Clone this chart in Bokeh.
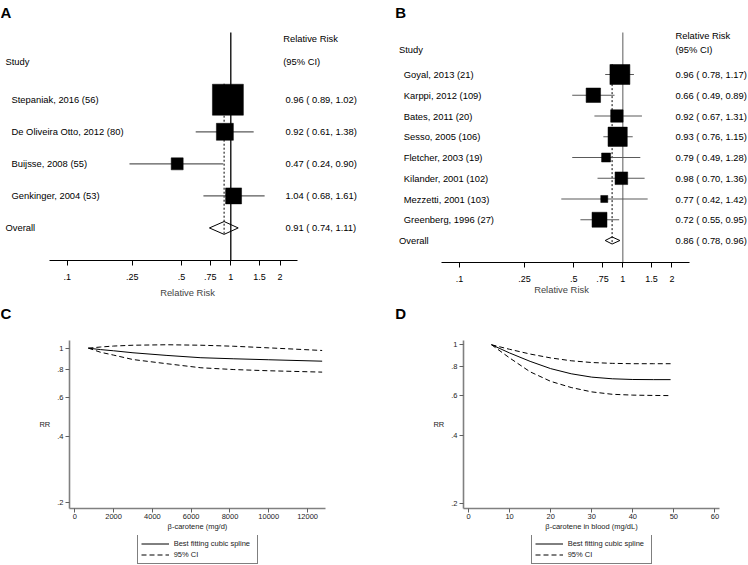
import math
from bokeh.plotting import figure
from bokeh.layouts import column, row
from bokeh.models import (Range1d, LinearScale, FixedTicker, CustomJSTickFormatter,
                          Label, Legend, LegendItem)
from bokeh.core.properties import value
from bokeh.embed import file_html
from bokeh.resources import INLINE

FONT = "Liberation Sans"

# ---------------- data ----------------
a_studies = ["Stepaniak, 2016 (56)", "De Oliveira Otto, 2012 (80)",
             "Buijsse, 2008 (55)", "Genkinger, 2004 (53)"]
a_rr = [0.96, 0.92, 0.47, 1.04]
a_lo = [0.89, 0.61, 0.24, 0.68]
a_hi = [1.02, 1.38, 0.90, 1.61]
a_weight = [58.2, 17.5, 8.7, 15.5]
a_overall = [0.91, 0.74, 1.11]

b_studies = ["Goyal, 2013 (21)", "Karppi, 2012 (109)", "Bates, 2011 (20)",
             "Sesso, 2005 (106)", "Fletcher, 2003 (19)", "Kilander, 2001 (102)",
             "Mezzetti, 2001 (103)", "Greenberg, 1996 (27)"]
b_rr = [0.96, 0.66, 0.92, 0.93, 0.79, 0.98, 0.77, 0.72]
b_lo = [0.78, 0.49, 0.67, 0.76, 0.49, 0.70, 0.42, 0.55]
b_hi = [1.17, 0.89, 1.31, 1.15, 1.28, 1.36, 1.42, 0.95]
b_weight = [24.2, 12.7, 9.4, 22.5, 4.9, 9.7, 3.0, 13.6]
b_overall = [0.86, 0.78, 0.96]

forest_ticks = [0.1, 0.25, 0.5, 0.75, 1, 1.5, 2]

c_x = [700, 1330, 2000, 3000, 4750, 6500, 8200, 10000, 12750]
c_rr = [1.0, 0.985, 0.973, 0.953, 0.927, 0.905, 0.895, 0.886, 0.873]
c_hi = [1.0, 1.012, 1.022, 1.031, 1.036, 1.031, 1.020, 1.003, 0.976]
c_lo = [1.0, 0.958, 0.930, 0.888, 0.850, 0.815, 0.800, 0.790, 0.779]
c_xticks = [0, 2000, 4000, 6000, 8000, 10000, 12000]

d_x = [5.6, 10, 15, 20, 25, 30, 35, 40, 45, 49.2]
d_rr = [1.0, 0.92, 0.845, 0.785, 0.745, 0.72, 0.708, 0.703, 0.702, 0.702]
d_hi = [1.0, 0.955, 0.91, 0.875, 0.85, 0.835, 0.828, 0.825, 0.825, 0.825]
d_lo = [1.0, 0.875, 0.76, 0.69, 0.648, 0.62, 0.605, 0.60, 0.598, 0.597]
d_xticks = [0, 10, 20, 30, 40, 50, 60]

rr_ticks = [0.2, 0.4, 0.6, 0.8, 1]
legend_labels = ["Best fitting cubic spline", "95% CI"]

NAN = float("nan")


def strip_fmt():
    return CustomJSTickFormatter(code=r"""
        var s = String(Math.round(tick * 100) / 100);
        return s.replace(/^0\./, '.');
    """)


def no_align(p):
    try:
        p.frame_align = False
    except Exception:
        pass
    return p


TOP_H = 300
FRAME_B = 262      # forest frame height (axis line at y=262)
LET_H = 20         # strip holding the panel letter of C / D
PLOT_H = 215       # spline figure
LEG_H = 30         # strip holding the legend


def bare(width, height):
    p = figure(width=width, height=height, x_range=Range1d(0, width),
               y_range=Range1d(0, height), x_axis_location=None, y_axis_location=None,
               output_backend="svg", toolbar_location=None,
               min_border_left=0, min_border_right=0, min_border_top=0,
               min_border_bottom=0)
    p.outline_line_color = None
    p.grid.visible = False
    return no_align(p)


def letter_label(text, x, y):
    return Label(x=x, y=y, text=text, text_font=FONT, text_font_size="15px",
                 text_font_style="bold", text_baseline="top", text_align="left",
                 text_color="black")


def forest(letter, studies, rr, lo, hi, weight, overall, width, xr, yr,
           one_top, name_px, head_px, hdr_px, rr_px, diamond_h, vline_color,
           lab_standoff, letter_px):
    n = len(studies)
    ys = list(range(n))
    p = figure(width=width, height=TOP_H, x_axis_type="log",
               x_range=Range1d(*xr), y_range=Range1d(*yr),
               y_axis_location=None, output_backend="svg", toolbar_location=None,
               min_border_left=0, min_border_right=0, min_border_top=0,
               min_border_bottom=TOP_H - FRAME_B)
    no_align(p)
    p.extra_x_ranges = {"px": Range1d(0, width)}
    p.extra_x_scales = {"px": LinearScale()}
    p.outline_line_color = None
    p.grid.visible = False

    ax = p.xaxis[0]
    ax.ticker = FixedTicker(ticks=forest_ticks, minor_ticks=[])
    ax.formatter = strip_fmt()
    ax.bounds = (0.078, 2.56)
    ax.axis_line_color = "black"
    ax.major_tick_line_color = "black"
    ax.major_tick_out = 5
    ax.major_tick_in = 0
    ax.minor_tick_line_color = None
    ax.major_label_standoff = 8
    ax.major_label_text_font = FONT
    ax.major_label_text_font_size = "9px"
    ax.major_label_text_color = "black"
    ax.axis_label = "Relative Risk"
    ax.axis_label_text_font = FONT
    ax.axis_label_text_font_size = "9.4px"
    ax.axis_label_text_font_style = "normal"
    ax.axis_label_standoff = lab_standoff

    # null line
    p.segment(x0=[1], x1=[1], y0=[one_top], y1=[yr[0]], line_color=vline_color,
              line_width=1.3)
    # dotted overall line
    p.segment(x0=[overall[0]], x1=[overall[0]], y0=[-0.5], y1=[n + diamond_h],
              line_color="black", line_dash="2 2", line_width=1)
    # CIs
    p.segment(x0=lo, x1=hi, y0=ys, y1=ys, line_color="#5a5a5a", line_width=1.2)
    # boxes (area proportional to weight)
    sizes = [4.06 * math.sqrt(w) for w in weight]
    p.scatter(x=rr, y=ys, size=sizes, marker="square", fill_color="black",
              line_color="black", line_width=0.5)
    # diamond
    est, dlo, dhi = overall
    p.patch(x=[dlo, est, dhi, est], y=[n, n - diamond_h, n, n + diamond_h],
            fill_alpha=0, line_color="black", line_width=1)

    tkw = dict(text_font=value(FONT), text_font_size="9.4px", text_baseline="middle",
               text_align="left", text_color="black", x_range_name="px")
    p.text(x=[name_px] * n, y=ys, text=studies, **tkw)
    p.text(x=[head_px], y=[n], text=["Overall"], **tkw)
    p.text(x=[head_px], y=[-1.2], text=["Study"], **tkw)
    p.text(x=[hdr_px, hdr_px], y=[-1.9, -1.2], text=["Relative Risk", "(95% CI)"], **tkw)
    labels = [f"{r:.2f} ( {l:.2f}, {h:.2f})" for r, l, h in zip(rr, lo, hi)]
    labels.append(f"{est:.2f} ( {dlo:.2f}, {dhi:.2f})")
    p.text(x=[rr_px] * (n + 1), y=ys + [n], text=labels, **tkw)

    lab = letter_label(letter, letter_px, yr[1])
    lab.x_range_name = "px"
    lab.y_offset = -3
    p.add_layout(lab)
    return p


def spline(letter, letter_px, xs, rr, lo, hi, width, bl, br, xr, yr, xticks, xlabel,
           legend_px):
    # strip with the panel letter
    top_strip = bare(width, LET_H)
    top_strip.add_layout(letter_label(letter, letter_px, LET_H - 4))

    fh = 168
    top = 340 - TOP_H - LET_H
    p = figure(width=width, height=PLOT_H, x_range=Range1d(*xr), y_range=Range1d(*yr),
               y_axis_type="log", output_backend="svg", toolbar_location=None,
               min_border_left=bl, min_border_right=br, min_border_top=top,
               min_border_bottom=PLOT_H - top - fh)
    no_align(p)
    p.outline_line_color = None
    p.grid.visible = False

    for ax in (p.xaxis[0], p.yaxis[0]):
        ax.axis_line_color = "#808080"
        ax.axis_line_width = 1.6
        ax.major_tick_line_color = "#606060"
        ax.major_tick_out = 4
        ax.major_tick_in = 0
        ax.minor_tick_line_color = None
        ax.major_label_text_font = FONT
        ax.major_label_text_font_size = "7.5px"
        ax.major_label_text_color = "#222222"
        ax.axis_label_text_font = FONT
        ax.axis_label_text_font_size = "7.5px"
        ax.axis_label_text_font_style = "normal"
        ax.axis_label_text_color = "#222222"

    xa = p.xaxis[0]
    xa.ticker = FixedTicker(ticks=xticks, minor_ticks=[])
    xa.major_label_standoff = 1
    xa.axis_label = xlabel
    xa.axis_label_standoff = 0

    ya = p.yaxis[0]
    ya.ticker = FixedTicker(ticks=rr_ticks, minor_ticks=[])
    ya.formatter = strip_fmt()
    ya.major_label_standoff = 2
    ya.axis_label = "RR"
    ya.axis_label_orientation = "horizontal"
    ya.axis_label_standoff = 4

    p.line(xs, rr, line_color="black", line_width=1)
    p.line(xs, hi, line_color="black", line_width=1, line_dash="5 3")
    p.line(xs, lo, line_color="black", line_width=1, line_dash="5 3")

    # strip with the legend (key glyphs styled like the curves above, no data drawn)
    leg_strip = bare(width, LEG_H)
    k_fit = leg_strip.line(x=[NAN], y=[NAN], line_color="black", line_width=1)
    k_ci = leg_strip.line(x=[NAN], y=[NAN], line_color="black", line_width=1,
                          line_dash="5 3")
    leg = Legend(items=[LegendItem(label=legend_labels[0], renderers=[k_fit]),
                        LegendItem(label=legend_labels[1], renderers=[k_ci])],
                 location=(legend_px, 1), orientation="vertical",
                 border_line_color="black", border_line_width=1,
                 background_fill_color="white", padding=3, spacing=0, margin=0,
                 label_text_font=FONT, label_text_font_size="7.5px",
                 label_text_color="#222222",
                 glyph_width=28, glyph_height=11, label_height=11,
                 label_standoff=5, label_width=80)
    leg_strip.add_layout(leg, "center")

    return column(top_strip, p, leg_strip, spacing=0)


# panel A: frame spans screen 0..374; x=1 at 230.3, 71 px per ln unit; rows 32.3 px apart from y=100
pa = forest("A", a_studies, a_rr, a_lo, a_hi, a_weight, a_overall, 374,
            (math.exp(-230.3 / 71), math.exp((374 - 230.3) / 71)),
            ((FRAME_B - 100) / 32.3, -100 / 32.3), -2.1,
            11, 5, 282.7, 285, 0.2, "black", 4, 0)
# panel B: frame spans screen 374..748; x=1 at 622.3; rows 20.75 px apart from y=74
pb = forest("B", b_studies, b_rr, b_lo, b_hi, b_weight, b_overall, 374,
            (math.exp(-248.3 / 70.9), math.exp((374 - 248.3) / 70.9)),
            ((FRAME_B - 74) / 20.75, -74 / 20.75), -2.02,
            29.3, 24.5, 301, 301, 0.17, "#808080", -1, 20.7)

pc = spline("C", 0, c_x, c_rr, c_lo, c_hi, 374, 69, 49, (-273, 12923),
            (0.188, 1.083), c_xticks, "β-carotene (mg/d)", 136.7)
pd_ = spline("D", 20.7, d_x, d_rr, d_lo, d_hi, 374, 89, 29, (-1.22, 61.11),
             (0.190, 1.044), d_xticks, "β-carotene in blood (mg/dL)", 156.7)

layout = column(row(pa, pb, spacing=0), row(pc, pd_, spacing=0), spacing=0)

open("out.html", "w").write(file_html(layout, INLINE))
